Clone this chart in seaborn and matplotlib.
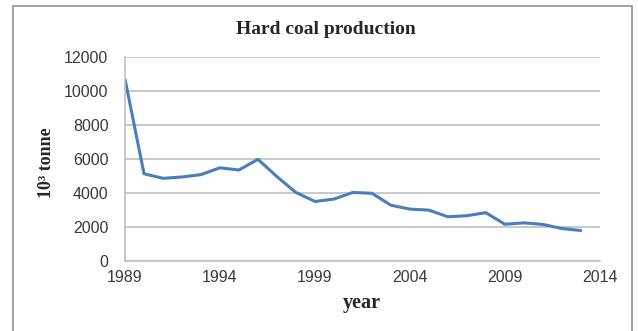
import matplotlib
matplotlib.use("Agg")
import matplotlib.pyplot as plt
import seaborn as sns
import pandas as pd
from matplotlib.patches import Rectangle

# Hard coal production, thousand tonnes per year
years = [1989, 1990, 1991, 1992, 1993, 1994, 1995, 1996, 1997, 1998, 1999,
         2000, 2001, 2002, 2003, 2004, 2005, 2006, 2007, 2008, 2009, 2010,
         2011, 2012, 2013]
production = [10700, 5150, 4880, 4960, 5100, 5500, 5370, 6000, 4980, 4050, 3520,
              3660, 4050, 4000, 3300, 3070, 3010, 2620, 2680, 2860, 2180, 2260,
              2170, 1930, 1810]

x_ticks = [1989, 1994, 1999, 2004, 2009, 2014]
y_ticks = [0, 2000, 4000, 6000, 8000, 10000, 12000]

title_text = "Hard coal production"
x_label = "year"
y_label = "10³ tonne"

df = pd.DataFrame({"year": years, "production": production})

sns.set_theme(style="white")
plt.rcParams["font.family"] = ["Liberation Sans", "DejaVu Sans"]

fig = plt.figure(figsize=(6.38, 3.31), dpi=100)
ax = fig.add_axes([0.196, 0.2106, 0.744, 0.6163])

grid_color = "#BFBFBF"
sns.lineplot(data=df, x="year", y="production", ax=ax, color="#4A7EBB",
             linewidth=2.2, solid_joinstyle="round", solid_capstyle="round")

ax.set_xlim(1989, 2014)
ax.set_ylim(0, 12000)
ax.set_xticks(x_ticks)
ax.set_yticks(y_ticks)
ax.set_xticklabels([str(t) for t in x_ticks])
ax.set_yticklabels([str(t) for t in y_ticks])
ax.yaxis.grid(True, color=grid_color, linewidth=1.2)
ax.xaxis.grid(False)
ax.tick_params(axis="both", length=0, labelsize=11.5, labelcolor="#3A3A3A")
ax.tick_params(axis="y", pad=12)
ax.tick_params(axis="x", pad=6)

for side in ["top", "right"]:
    ax.spines[side].set_visible(False)
for side in ["left", "bottom"]:
    ax.spines[side].set_color(grid_color)
    ax.spines[side].set_linewidth(1.2)

ax.set_xlabel("")
ax.set_ylabel("")

serif = ["Liberation Serif", "DejaVu Serif"]
fig.text(0.51, 0.912, title_text, ha="center", va="center",
         fontsize=14, fontweight="bold", family=serif)
fig.text(0.567, 0.085, x_label, ha="center", va="center",
         fontsize=14.5, fontweight="bold", family=serif)
fig.text(0.073, 0.51, y_label, ha="center", va="center", rotation=90,
         fontsize=13, fontweight="bold", family=serif)

# outer chart frame
fig.patches.append(Rectangle((13 / 638, -0.05), (632 - 13) / 638, 1.05 - 6 / 331,
                             transform=fig.transFigure, fill=False,
                             edgecolor="#9A9A9A", linewidth=1.3))

fig.savefig("out.png", dpi=100, facecolor="white")
